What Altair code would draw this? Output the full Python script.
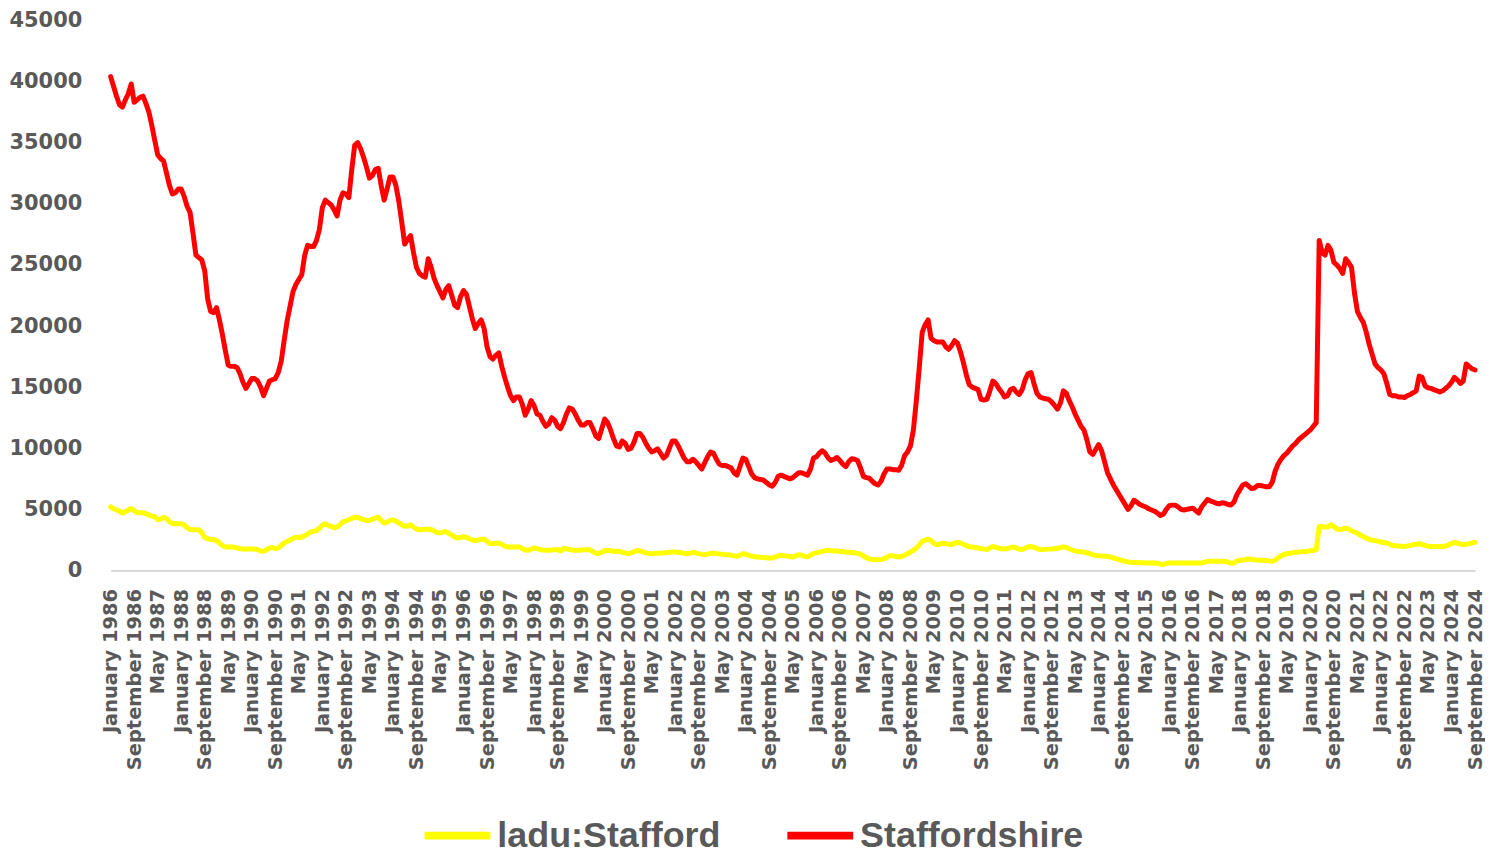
import altair as alt
import pandas as pd

MONTHS = ["January", "February", "March", "April", "May", "June", "July",
          "August", "September", "October", "November", "December"]
START_YEAR = 1986

# Staffordshire, monthly Jan 1986 - Sep 2024
staffordshire = [
    40400, 39600, 38800, 38100, 37900, 38500, 39000, 39800, 38300, 38500, 38700, 38800,  # 1986
    38200, 37500, 36400, 35200, 34000, 33700, 33500, 32500, 31500, 30800, 30900, 31200,  # 1987
    31200, 30600, 29800, 29300, 27600, 25800, 25600, 25400, 24500, 22200, 21200, 21100,  # 1988
    21500, 20500, 19300, 18000, 16800, 16700, 16700, 16600, 16100, 15400, 14900, 15300,  # 1989
    15700, 15700, 15500, 15000, 14300, 14900, 15500, 15600, 15700, 16200, 17100, 18800,  # 1990
    20400, 21600, 22800, 23400, 23800, 24200, 25800, 26600, 26500, 26500, 27000, 27900,  # 1991
    29700, 30300, 30100, 29900, 29500, 29000, 30300, 30900, 30800, 30500, 32800, 34800,  # 1992
    35000, 34500, 33800, 33000, 32100, 32300, 32800, 32900, 31500, 30300, 31200, 32200,  # 1993
    32200, 31500, 30200, 28500, 26700, 27100, 27400, 26000, 24800, 24300, 24100, 24000,  # 1994
    25500, 24800, 23900, 23300, 22800, 22300, 23000, 23300, 22500, 21700, 21500, 22400,  # 1995
    22900, 22600, 21600, 20600, 19800, 20200, 20500, 19800, 18300, 17500, 17300, 17600,  # 1996
    17800, 16700, 15800, 15000, 14300, 13900, 14200, 14200, 13600, 12700, 13200, 13900,  # 1997
    13500, 12800, 12700, 12200, 11800, 12000, 12500, 12300, 11800, 11600, 12100, 12800,  # 1998
    13300, 13200, 12800, 12300, 11900, 11900, 12100, 12100, 11600, 11000, 10800, 11600,  # 1999
    12400, 12100, 11500, 10800, 10200, 10100, 10600, 10400, 9900, 10000, 10500, 11200,  # 2000
    11200, 10900, 10400, 10000, 9700, 9800, 9950, 9600, 9200, 9400, 10000, 10600,  # 2001
    10600, 10200, 9700, 9200, 8900, 8900, 9100, 8900, 8600, 8300, 8800, 9300,  # 2002
    9700, 9600, 9100, 8700, 8600, 8600, 8500, 8400, 8000, 7800, 8500, 9200,  # 2003
    9100, 8500, 7900, 7600, 7500, 7450, 7400, 7200, 7000, 6900, 7200, 7700,  # 2004
    7800, 7700, 7600, 7500, 7600, 7800, 8000, 8000, 7900, 7800, 8300, 9200,  # 2005
    9300, 9600, 9800, 9600, 9200, 9000, 9100, 9250, 9000, 8700, 8500, 8900,  # 2006
    9150, 9100, 9000, 8400, 7700, 7600, 7550, 7300, 7100, 7000, 7300, 7900,  # 2007
    8300, 8300, 8250, 8250, 8200, 8600, 9400, 9700, 10200, 11500, 13900, 16600,  # 2008
    19500, 20100, 20500, 19000, 18800, 18700, 18700, 18700, 18300, 18100, 18400, 18800,  # 2009
    18600, 17900, 17000, 16000, 15200, 15000, 14900, 14800, 14000, 13950, 14000, 14700,  # 2010
    15500, 15300, 14900, 14600, 14200, 14300, 14800, 14900, 14600, 14400, 14800, 15600,  # 2011
    16100, 16200, 15300, 14500, 14200, 14100, 14050, 14000, 13800, 13500, 13200, 13700,  # 2012
    14700, 14500, 13900, 13400, 12800, 12300, 11800, 11500, 10700, 9700, 9500, 9900,  # 2013
    10300, 9800, 8900, 8000, 7500, 7000, 6600, 6200, 5800, 5400, 5000, 5300,  # 2014
    5750, 5600, 5400, 5300, 5200, 5050, 4950, 4850, 4700, 4500, 4600, 5000,  # 2015
    5300, 5350, 5350, 5200, 5000, 4950, 5000, 5050, 5100, 4900, 4700, 5200,  # 2016
    5500, 5800, 5700, 5600, 5500, 5450, 5550, 5500, 5400, 5350, 5600, 6200,  # 2017
    6600, 7000, 7100, 6900, 6700, 6750, 6950, 6950, 6900, 6850, 6850, 7200,  # 2018
    8100, 8700, 9100, 9400, 9600, 9900, 10200, 10400, 10700, 10900, 11100, 11300,  # 2019
    11500, 11800, 12100, 27000, 26000, 25800, 26600, 26200, 25200, 25000, 24700, 24300,  # 2020
    25500, 25200, 24800, 22700, 21200, 20700, 20300, 19500, 18500, 17700, 16900, 16600,  # 2021
    16400, 16100, 15300, 14400, 14300, 14300, 14200, 14200, 14150, 14300, 14400, 14550,  # 2022
    14700, 15900, 15800, 15100, 14950, 14900, 14800, 14700, 14600, 14700, 14900, 15100,  # 2023
    15400, 15800, 15600, 15300, 15500, 16900, 16700, 16500, 16400,  # 2024
]

# ladu:Stafford, monthly Jan 1986 - Sep 2024
stafford = [
    5200, 5050, 4950, 4850, 4700, 4800, 4950, 5080, 4900, 4750, 4730, 4730,  # 1986
    4650, 4550, 4450, 4400, 4150, 4200, 4350, 4250, 4000, 3850, 3820, 3820,  # 1987
    3820, 3750, 3500, 3350, 3330, 3330, 3330, 3100, 2700, 2600, 2550, 2520,  # 1988
    2450, 2250, 2050, 1930, 1920, 1920, 1900, 1850, 1800, 1760, 1760, 1760,  # 1989
    1760, 1760, 1700, 1600, 1570, 1700, 1850, 1880, 1780, 1850, 2050, 2250,  # 1990
    2380, 2500, 2620, 2730, 2730, 2730, 2850, 3000, 3150, 3200, 3270, 3450,  # 1991
    3700, 3820, 3700, 3600, 3500, 3550, 3750, 3980, 4050, 4150, 4250, 4360,  # 1992
    4350, 4250, 4150, 4100, 4090, 4200, 4300, 4360, 4100, 3870, 3950, 4100,  # 1993
    4140, 4050, 3900, 3750, 3620, 3650, 3740, 3550, 3400, 3330, 3350, 3380,  # 1994
    3380, 3350, 3250, 3100, 3080, 3150, 3190, 3050, 2900, 2750, 2650, 2700,  # 1995
    2780, 2720, 2600, 2500, 2460, 2500, 2550, 2570, 2400, 2220, 2200, 2230,  # 1996
    2250, 2150, 2000, 1930, 1920, 1920, 1920, 1920, 1800, 1680, 1650, 1750,  # 1997
    1840, 1800, 1720, 1680, 1650, 1650, 1680, 1700, 1710, 1600, 1800, 1780,  # 1998
    1720, 1680, 1660, 1650, 1680, 1700, 1710, 1700, 1550, 1420, 1400, 1500,  # 1999
    1620, 1650, 1620, 1580, 1570, 1570, 1500, 1420, 1380, 1450, 1550, 1640,  # 2000
    1600, 1520, 1450, 1400, 1380, 1400, 1420, 1430, 1440, 1470, 1500, 1510,  # 2001
    1520, 1500, 1450, 1400, 1380, 1420, 1480, 1450, 1380, 1320, 1300, 1350,  # 2002
    1400, 1440, 1400, 1360, 1330, 1300, 1300, 1250, 1200, 1160, 1250, 1380,  # 2003
    1330, 1250, 1180, 1130, 1110, 1090, 1070, 1050, 1030, 1030, 1100, 1200,  # 2004
    1240, 1220, 1180, 1140, 1110, 1200, 1300, 1250, 1150, 1120, 1250, 1380,  # 2005
    1440, 1500, 1560, 1620, 1650, 1630, 1600, 1590, 1570, 1550, 1520, 1500,  # 2006
    1480, 1450, 1400, 1350, 1200, 1030, 950, 900, 890, 890, 900, 950,  # 2007
    1100, 1220, 1200, 1150, 1110, 1150, 1250, 1380, 1500, 1650, 1840, 2100,  # 2008
    2380, 2500, 2570, 2450, 2200, 2110, 2180, 2250, 2200, 2150, 2110, 2250,  # 2009
    2300, 2250, 2150, 2050, 1950, 1920, 1880, 1850, 1800, 1750, 1710, 1850,  # 2010
    1970, 1900, 1820, 1780, 1760, 1800, 1870, 1920, 1850, 1740, 1720, 1820,  # 2011
    1930, 1970, 1900, 1800, 1720, 1710, 1730, 1750, 1760, 1780, 1820, 1870,  # 2012
    1920, 1880, 1780, 1680, 1600, 1560, 1530, 1500, 1450, 1380, 1300, 1220,  # 2013
    1210, 1190, 1170, 1160, 1100, 1030, 950, 890, 820, 760, 700, 670,  # 2014
    660, 650, 640, 630, 625, 620, 620, 620, 600, 520, 500, 580,  # 2015
    610, 620, 620, 620, 620, 620, 620, 620, 620, 620, 620, 620,  # 2016
    680, 750, 760, 760, 760, 760, 760, 760, 700, 590, 620, 790,  # 2017
    840, 860, 900, 950, 920, 880, 860, 850, 840, 820, 790, 760,  # 2018
    850, 1030, 1200, 1300, 1380, 1420, 1460, 1490, 1510, 1530, 1560, 1580,  # 2019
    1620, 1660, 1710, 3600, 3580, 3560, 3550, 3740, 3600, 3400, 3350, 3400,  # 2020
    3470, 3400, 3250, 3150, 3050, 2900, 2780, 2650, 2550, 2480, 2450, 2400,  # 2021
    2330, 2300, 2250, 2150, 2050, 2020, 2000, 1980, 1970, 2000, 2060, 2110,  # 2022
    2150, 2190, 2150, 2050, 1970, 1970, 1970, 1970, 1970, 1970, 2000, 2100,  # 2023
    2200, 2300, 2250, 2150, 2110, 2150, 2200, 2250, 2300,  # 2024
]

SERIES = ["ladu:Stafford", "Staffordshire"]
COLORS = ["#FFFF00", "#FF0000"]
TEXT = "#595959"

n = len(staffordshire)
labels = [f"{MONTHS[i % 12]} {START_YEAR + i // 12}" for i in range(n)]
tick_labels = labels[::8]

df = pd.DataFrame({
    "month": labels + labels,
    "value": stafford + staffordshire,
    "series": [SERIES[0]] * n + [SERIES[1]] * n,
})

chart = alt.Chart(df).mark_line(
    strokeWidth=5, strokeCap="round", strokeJoin="round"
).encode(
    x=alt.X(
        "month:N", sort=labels,
        scale=alt.Scale(type="point", padding=0),
        axis=alt.Axis(
            title=None, values=tick_labels, labelAngle=-90, labelPadding=18,
            ticks=False, tickSize=0, domainColor="#D9D9D9", domainWidth=2,
            labelFont="DejaVu Sans", labelFontSize=19.5, labelFontWeight="bold",
            labelColor=TEXT, labelLimit=400, labelOverlap=False, grid=False,
        ),
    ),
    y=alt.Y(
        "value:Q",
        scale=alt.Scale(domain=[0, 45000]),
        axis=alt.Axis(
            title=None, values=list(range(0, 45001, 5000)), format="d",
            ticks=False, tickSize=0, domain=False, grid=False,
            labelFont="DejaVu Sans", labelFontSize=21, labelFontWeight="bold",
            labelColor=TEXT, labelPadding=29, minExtent=103, maxExtent=103,
        ),
    ),
    color=alt.Color(
        "series:N",
        scale=alt.Scale(domain=SERIES, range=COLORS),
        legend=alt.Legend(
            title=None, orient="none", legendX=311, legendY=781,
            direction="horizontal", symbolType="stroke", symbolSize=4356,
            symbolStrokeWidth=8, labelFont="Liberation Sans", labelFontSize=36,
            labelFontWeight="bold", labelColor=TEXT, columnPadding=51,
            labelOffset=3, labelLimit=400,
        ),
    ),
).properties(
    width=1369, height=552,
    padding={"left": 0, "top": 0, "right": 0, "bottom": 0},
).configure_view(stroke=None)

chart.save("out.html", embed_options={"renderer": "svg", "actions": False})
